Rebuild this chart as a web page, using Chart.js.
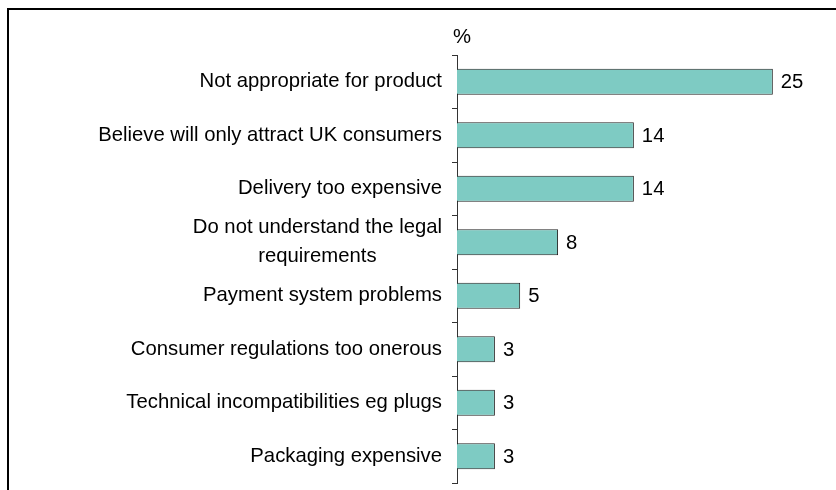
<!DOCTYPE html>
<html>
<head>
<meta charset="utf-8">
<script src="https://cdn.jsdelivr.net/npm/chart.js@4.4.1/dist/chart.umd.min.js"></script>
<style>
  html, body { margin: 0; padding: 0; background: #fff; }
  #wrap { position: relative; width: 836px; height: 490px; overflow: hidden; }
  #frame {
    position: absolute; left: 7px; top: 8px; width: 900px; height: 600px;
    border-left: 2px solid #000; border-top: 2px solid #000;
  }
  canvas { position: absolute; left: 0; top: 0; }
</style>
</head>
<body>
<div id="wrap">
  <div id="frame"></div>
  <canvas id="barras" width="836" height="490"></canvas>
</div>
<script>
const categorias = [
  ["Not appropriate for product"],
  ["Believe will only attract UK consumers"],
  ["Delivery too expensive"],
  ["Do not understand the legal", "requirements"],
  ["Payment system problems"],
  ["Consumer regulations too onerous"],
  ["Technical incompatibilities eg plugs"],
  ["Packaging expensive"],
];
const valores = [25, 14, 14, 8, 5, 3, 3, 3];
const unidad = "%";

const FUENTE = "20.3px 'Liberation Sans', Arial, sans-serif";

// etiquetas del eje y (bloque centrado, alineado a la derecha) y valores al final de cada barra
const etiquetas = {
  id: "etiquetas",
  afterDraw(chart) {
    const ctx = chart.ctx;
    const y = chart.scales.y;
    const x = chart.scales.x;
    ctx.save();
    ctx.font = FUENTE;
    ctx.fillStyle = "#000";
    ctx.textBaseline = "middle";
    ctx.textAlign = "center";
    const derecha = y.right - 15;
    const alto = 29;
    categorias.forEach((lineas, i) => {
      const cy = y.getPixelForValue(i);
      const ancho = Math.max(...lineas.map(l => ctx.measureText(l).width));
      const cx = derecha - ancho / 2;
      lineas.forEach((l, j) => {
        ctx.fillText(l, cx, cy + (j - (lineas.length - 1) / 2) * alto);
      });
    });
    ctx.textAlign = "left";
    const meta = chart.getDatasetMeta(0);
    meta.data.forEach((bar, i) => {
      ctx.fillText(String(valores[i]), bar.x + 8, bar.y + 1);
    });
    ctx.fillText(unidad, x.left - 4, 37);
    ctx.restore();
  },
};

new Chart("barras", {
  type: "bar",
  data: {
    labels: categorias,
    datasets: [
      {
        data: valores,
        backgroundColor: "#7ecbc3",
        borderColor: "#222",
        borderWidth: 1,
        categoryPercentage: 1,
        barPercentage: 0.49,
      },
    ],
  },
  options: {
    indexAxis: "y",
    responsive: false,
    animation: false,
    layout: { padding: { top: 55, bottom: 7, left: 0, right: 0 } },
    plugins: { legend: { display: false }, tooltip: { enabled: false } },
    scales: {
      x: { display: false, min: 0, max: 30 },
      y: {
        afterFit(scale) { scale.width = 457; },
        border: { display: true, color: "#333", width: 1 },
        grid: { drawOnChartArea: false, offset: true, tickLength: 5, color: "#333" },
        ticks: { display: false },
      },
    },
  },
  plugins: [etiquetas],
});
</script>
</body>
</html>
